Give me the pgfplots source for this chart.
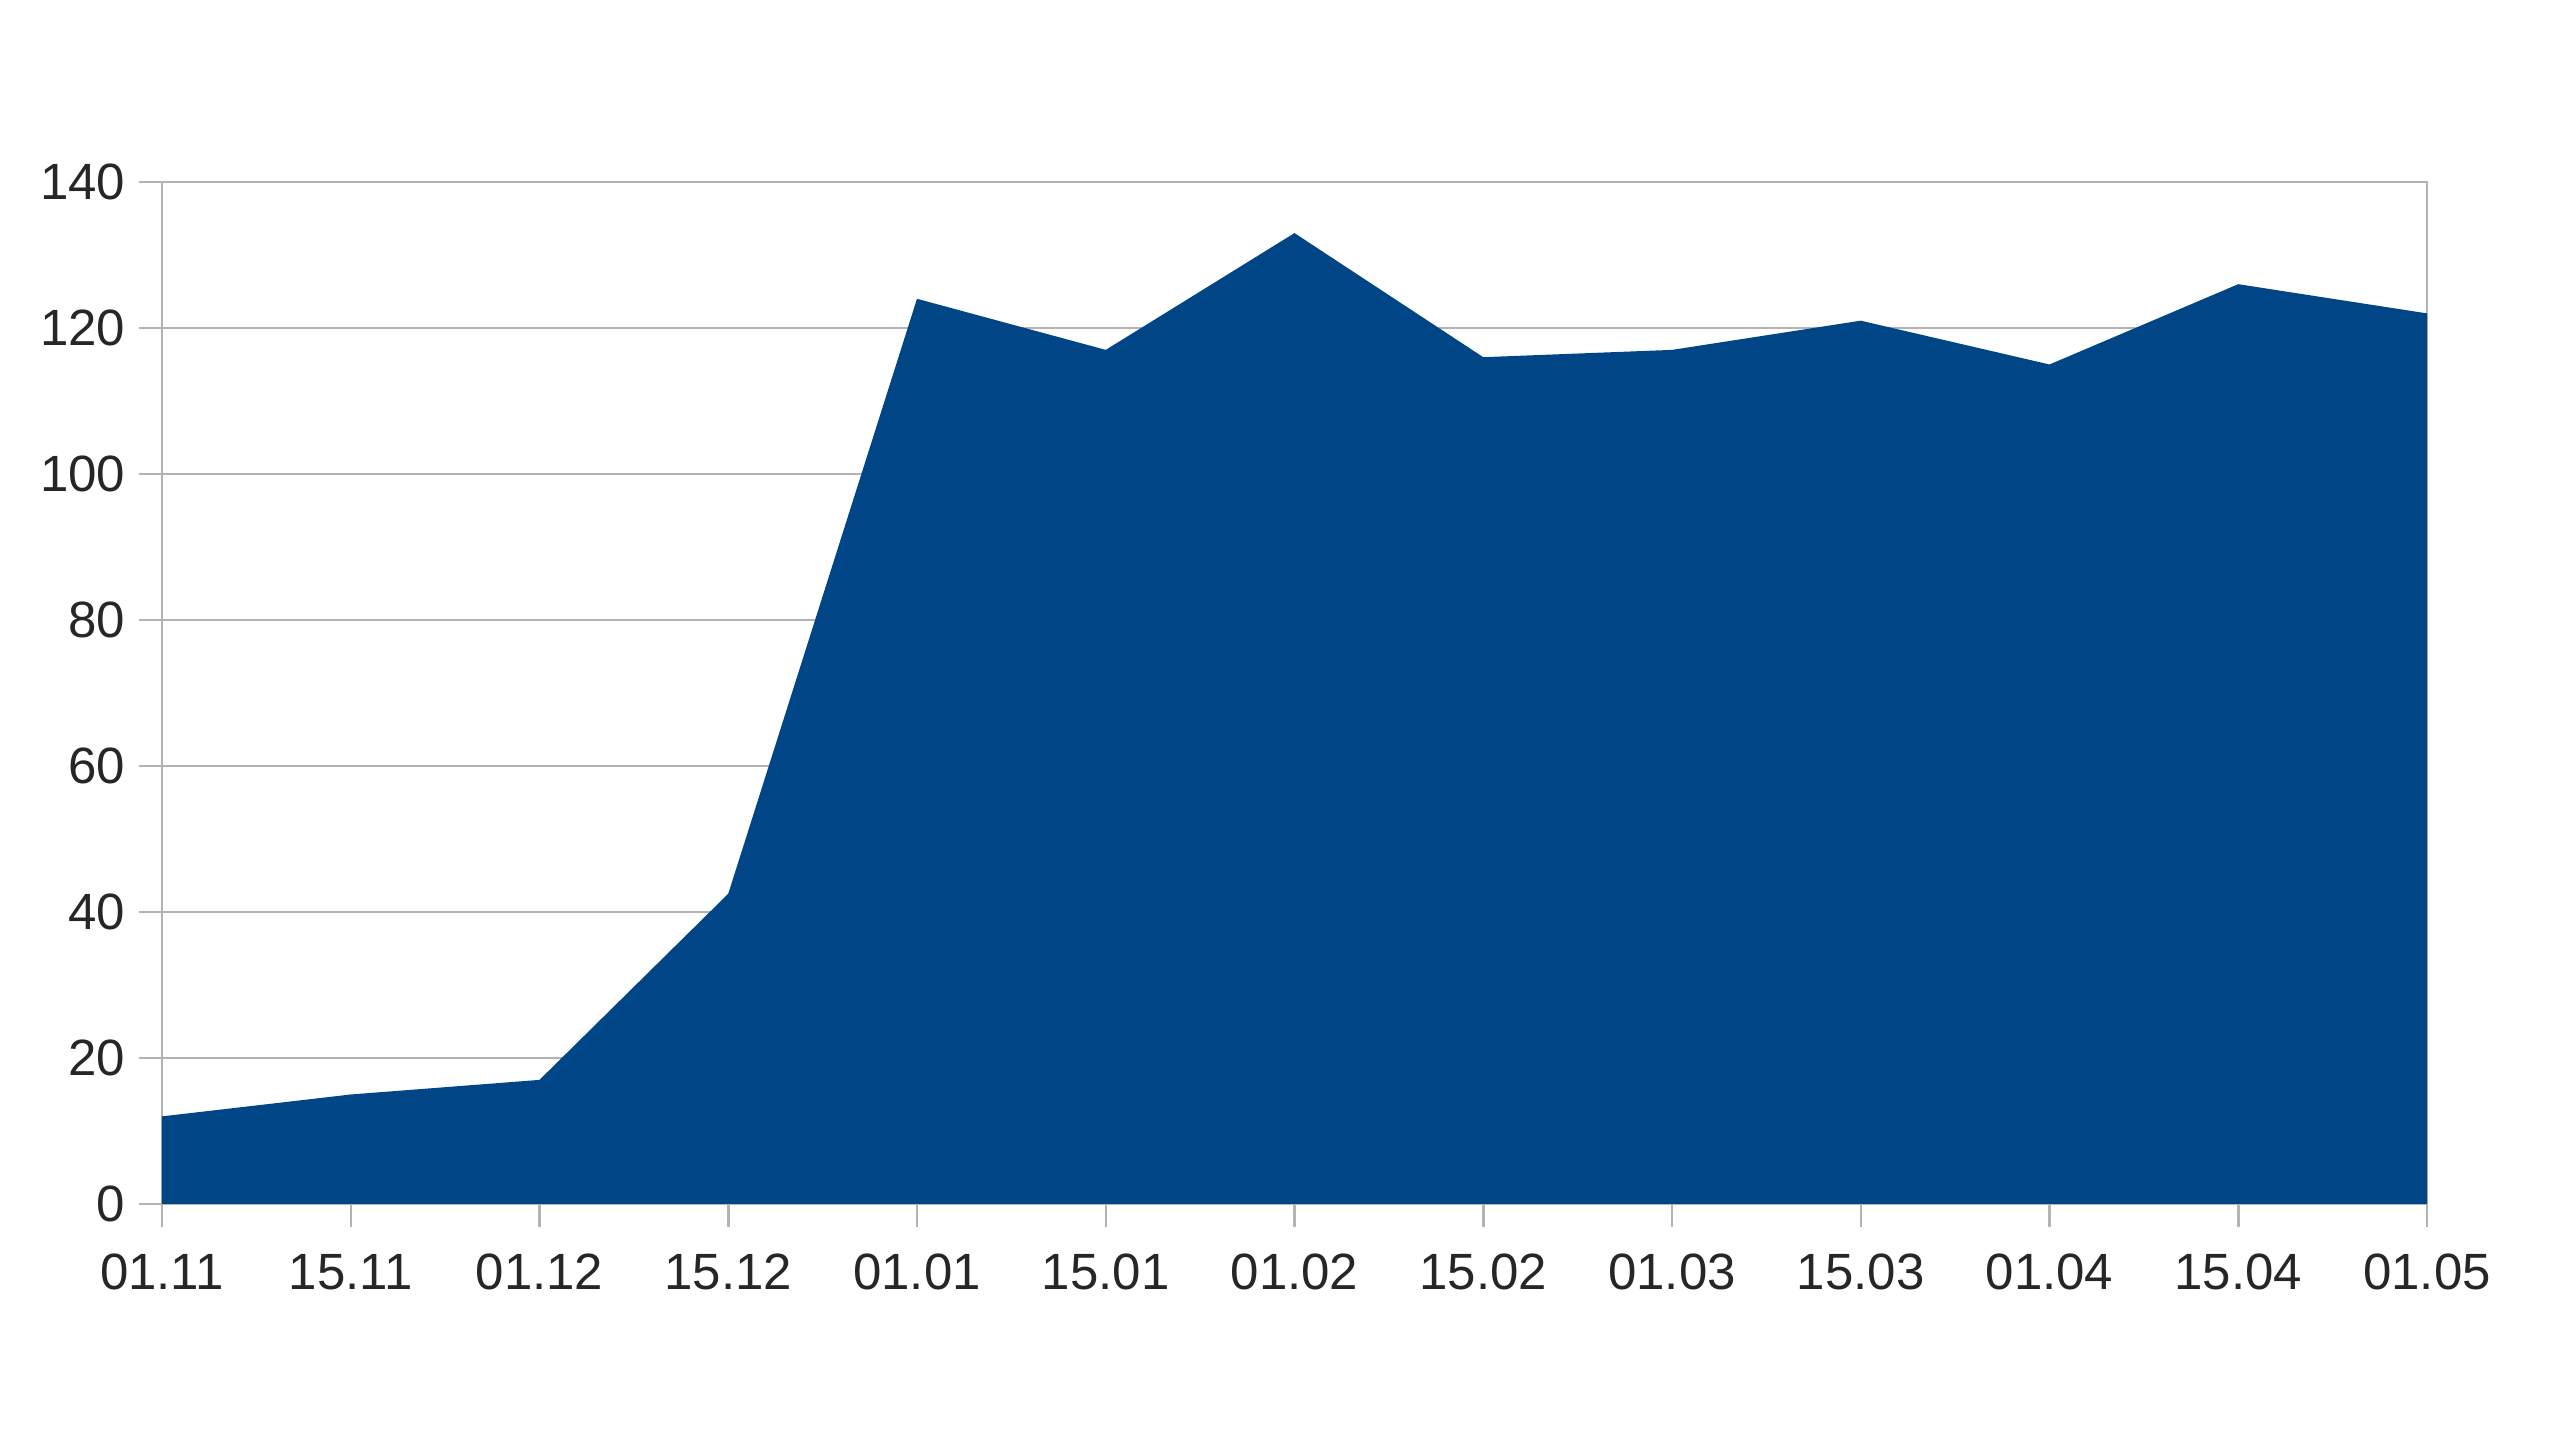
\documentclass[border=0pt]{standalone}
\usepackage{fontspec}
\setmainfont{Liberation Sans}
\usepackage{pgfplots}
\pgfplotsset{compat=1.18}
\definecolor{areablue}{HTML}{004586}
\definecolor{gridgray}{HTML}{B3B3B3}

\begin{document}
\begin{tikzpicture}
	\useasboundingbox (-32.4pt,-47.8pt) rectangle (479.6pt,240.8pt);
	\begin{axis}[
		scale only axis,
		width=453pt, height=204.4pt,
		xmin=0, xmax=12,
		ymin=0, ymax=140,
		xtick={0,...,12},
		xticklabels={01.11,15.11,01.12,15.12,01.01,15.01,01.02,15.02,01.03,15.03,01.04,15.04,01.05},
		ytick={0,20,...,140},
		tick pos=left,
		tick align=outside,
		major tick length=4.6pt,
		tick style={gridgray, line width=0.5pt},
		axis line style={gridgray, line width=0.5pt},
		ymajorgrids=true,
		grid style={gridgray, line width=0.5pt},
		tick label style={font=\fontsize{10.2}{12}\selectfont, text=black!85},
		xticklabel style={text height=7.4pt, text depth=0pt, yshift=-1.6pt},
		yticklabel style={xshift=0.8pt},
		/pgf/number format/assume math mode=true,
		]
		\addplot[fill=areablue, draw=none] coordinates {
			(0,12) (1,15) (2,17) (3,42.5) (4,124) (5,117) (6,133)
			(7,116) (8,117) (9,121) (10,115) (11,126) (12,122)
		} \closedcycle;
	\end{axis}
\end{tikzpicture}
\end{document}
